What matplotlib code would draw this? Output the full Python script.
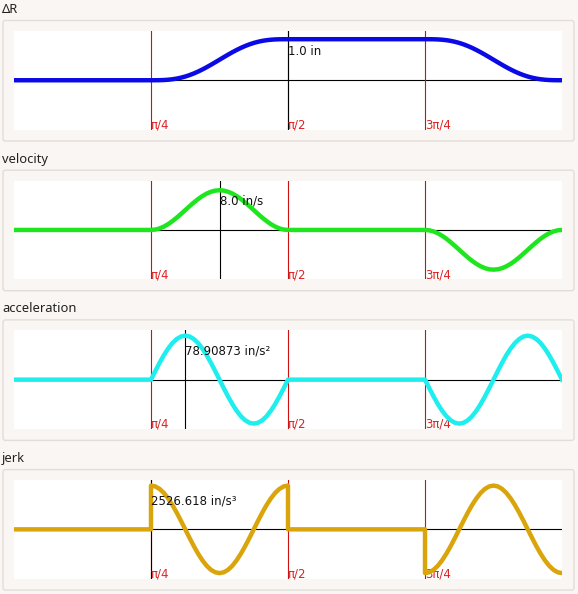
import numpy as np
import matplotlib.pyplot as plt
from matplotlib.patches import FancyBboxPatch

# Кути у частках pi/128
steps = [0,
         32, 33, 34, 35, 36, 37, 38, 39, 40, 41, 42, 43, 44, 45, 46, 47, 48,
         49, 50, 51, 52, 53, 54, 55, 56, 57, 58, 59, 60, 61, 62, 63, 64,
         96, 97, 98, 99, 100, 101, 102, 103, 104, 105, 106, 107, 108, 109, 110, 111, 112,
         113, 114, 115, 116, 117, 118, 119, 120, 121, 122, 123, 124, 125, 126, 127, 128]

# Переміщення, дюйми
delta_r = [0,
           0, 0.0002, 0.0016, 0.0053, 0.0125, 0.0239, 0.0405, 0.0627, 0.0908,
           0.1252, 0.1655, 0.2114, 0.2625, 0.3178, 0.3766, 0.4377, 0.5,
           0.5623, 0.6234, 0.6822, 0.7375, 0.7886, 0.8345, 0.8748, 0.9092,
           0.9373, 0.9595, 0.9761, 0.9875, 0.9947, 0.9984, 0.9998, 1.0,
           1.0, 0.9998, 0.9984, 0.9947, 0.9875, 0.9761, 0.9595, 0.9373, 0.9092,
           0.8748, 0.8345, 0.7886, 0.7375, 0.6822, 0.6234, 0.5623, 0.5,
           0.4377, 0.3766, 0.3178, 0.2625, 0.2114, 0.1655, 0.1252, 0.0908,
           0.0627, 0.0405, 0.0239, 0.0125, 0.0053, 0.0016, 0.0002, 0]

# Швидкість, in/s
velocity = [0,
            0, 0.077, 0.304, 0.674, 1.172, 1.778, 2.469, 3.220, 4.0,
            4.780, 5.531, 6.222, 6.828, 7.326, 7.696, 7.923, 8.0,
            7.923, 7.696, 7.326, 6.828, 6.222, 5.531, 4.780, 4.0,
            3.220, 2.469, 1.778, 1.172, 0.674, 0.304, 0.077, 0,
            0, -0.077, -0.304, -0.674, -1.172, -1.778, -2.469, -3.220, -4.0,
            -4.780, -5.531, -6.222, -6.828, -7.326, -7.696, -7.923, -8.0,
            -7.923, -7.696, -7.326, -6.828, -6.222, -5.531, -4.780, -4.0,
            -3.220, -2.469, -1.778, -1.172, -0.674, -0.304, -0.077, 0]

# Прискорення, in/s^2
acceleration = [0,
                0, 15.39, 30.20, 43.84, 55.80, 65.61, 72.90, 77.39, 78.91,
                77.39, 72.90, 65.61, 55.80, 43.84, 30.20, 15.39, 0,
                -15.39, -30.20, -43.84, -55.80, -65.61, -72.90, -77.39, -78.91,
                -77.39, -72.90, -65.61, -55.80, -43.84, -30.20, -15.39, 0,
                0, -15.39, -30.20, -43.84, -55.80, -65.61, -72.90, -77.39, -78.91,
                -77.39, -72.90, -65.61, -55.80, -43.84, -30.20, -15.39, 0,
                15.39, 30.20, 43.84, 55.80, 65.61, 72.90, 77.39, 78.91,
                77.39, 72.90, 65.61, 55.80, 43.84, 30.20, 15.39, 0]

# Ривок має стрибки, тому свої кути
jerk_steps = [0, 32,
              32, 33, 34, 35, 36, 37, 38, 39, 40, 41, 42, 43, 44, 45, 46, 47, 48,
              49, 50, 51, 52, 53, 54, 55, 56, 57, 58, 59, 60, 61, 62, 63, 64,
              64, 96,
              96, 97, 98, 99, 100, 101, 102, 103, 104, 105, 106, 107, 108, 109, 110, 111, 112,
              113, 114, 115, 116, 117, 118, 119, 120, 121, 122, 123, 124, 125, 126, 127, 128]
jerk = [0, 0,
        2526.6, 2478.1, 2334.3, 2100.9, 1786.6, 1403.8, 966.9, 492.9, 0,
        -492.9, -966.9, -1403.8, -1786.6, -2100.9, -2334.3, -2478.1, -2526.6,
        -2478.1, -2334.3, -2100.9, -1786.6, -1403.8, -966.9, -492.9, 0,
        492.9, 966.9, 1403.8, 1786.6, 2100.9, 2334.3, 2478.1, 2526.6,
        0, 0,
        -2526.6, -2478.1, -2334.3, -2100.9, -1786.6, -1403.8, -966.9, -492.9, 0,
        492.9, 966.9, 1403.8, 1786.6, 2100.9, 2334.3, 2478.1, 2526.6,
        2478.1, 2334.3, 2100.9, 1786.6, 1403.8, 966.9, 492.9, 0,
        -492.9, -966.9, -1403.8, -1786.6, -2100.9, -2334.3, -2478.1, -2526.6]

titles = ['ΔR', 'velocity', 'acceleration', 'jerk']
peak_labels = ['1.0 in', '8.0 in/s', '78.90873 in/s²', '2526.618 in/s³']
peak_steps = [64, 48, 40, 32]
tick_steps = [32, 64, 96]
tick_labels = ['π/4', 'π/2', '3π/4']

W, H = 578, 594
BG = '#faf6f3'


def fx(px):
    return px / W


def fy(py):
    return 1 - py / H


def draw_panel(fig, k, xs, ys, color, ylim):
    top = 31 + 149.7 * k
    # рамка панелі
    box = FancyBboxPatch((fx(3), fy(141 + 149.7 * k)), fx(571), (120.5) / H,
                         boxstyle='round,pad=0,rounding_size=0.004',
                         transform=fig.transFigure, facecolor=BG,
                         edgecolor='#e2ddd9', lw=1.0, zorder=-1)
    fig.add_artist(box)
    fig.text(fx(2), fy(13 + 149.7 * k), titles[k], fontsize=9.3,
             family='Noto Sans', va='baseline', color='#222222')

    ax = fig.add_axes([fx(14), fy(top + 98.5), 548 / W, 98.5 / H])
    ax.set_zorder(1)
    ax.set_facecolor('white')
    for s in ax.spines.values():
        s.set_visible(False)
    ax.set_xticks([])
    ax.set_yticks([])
    ax.set_xlim(0, np.pi)
    ax.set_ylim(-ylim, ylim)

    ax.axhline(0, color='black', lw=0.8, zorder=1)
    for st, lab in zip(tick_steps, tick_labels):
        ax.axvline(st * np.pi / 128, color='#cc1111', lw=0.8, zorder=1)
        ax.text(st * np.pi / 128, 0.012, lab, transform=ax.get_xaxis_transform(),
                color='#dd2222', fontsize=8.5, ha='left', va='baseline')
    px = peak_steps[k] * np.pi / 128
    ax.axvline(px, color='black', lw=0.8, zorder=2)

    ax.plot([s * np.pi / 128 for s in xs], ys, color=color, lw=3.2,
            solid_joinstyle='round', zorder=3)
    ax.text(px, 0.79, peak_labels[k], transform=ax.get_xaxis_transform(),
            fontsize=8.5, ha='left', va='center', color='#111111', zorder=5)


fig = plt.figure(figsize=(W / 100, H / 100), dpi=100, facecolor=BG)
draw_panel(fig, 0, steps, delta_r, '#0a0ae6', 1.2)
draw_panel(fig, 1, steps, velocity, '#1ee61e', 8.0 * 1.24)
draw_panel(fig, 2, steps, acceleration, '#1eeeee', 78.90873 * 1.12)
draw_panel(fig, 3, jerk_steps, jerk, '#daa50a', 2526.618 * 1.125)

fig.savefig('out.png', dpi=100, facecolor=BG)
